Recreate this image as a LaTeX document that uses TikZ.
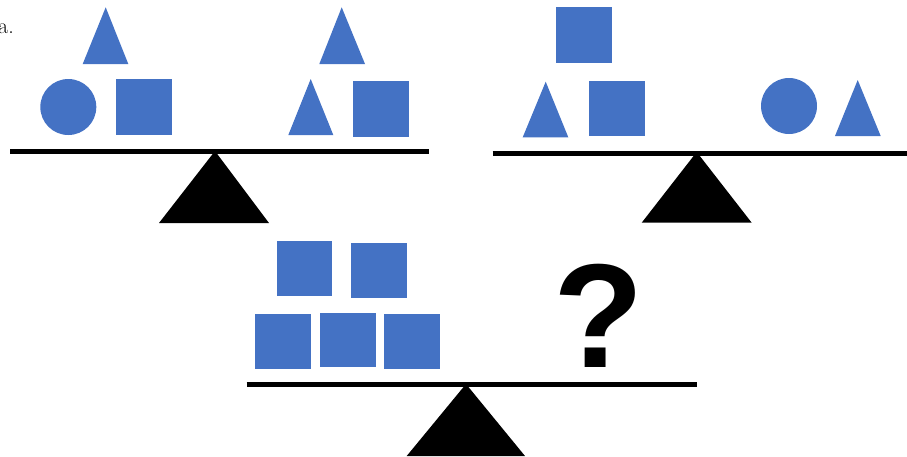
\documentclass[tikz,border=0pt]{standalone}
\usepackage{fontspec}
\newfontfamily\qfont{Liberation Sans}
\definecolor{shapeblue}{HTML}{4472C4}
\begin{document}
\begin{tikzpicture}[x=1pt, y=-1pt,
  piece/.style={fill=shapeblue},
  beam/.style={line width=5pt},
  pivot/.style={fill=black}]
\useasboundingbox (0,0) rectangle (907,456);

% first scale
\node[anchor=base east, inner sep=0pt, font=\fontsize{22}{24}\selectfont] (lbl) at (14,33) {a.};
\draw[beam] (10,151.5) -- (429,151.5);
\fill[pivot] (215,151) -- (269,223) -- (159,223) -- cycle;
\fill[piece] (105.7,7.3) -- (128.3,64) -- (82.7,64) -- cycle;
\fill[piece] (68.3,107) circle[radius=28];
\fill[piece] (116,79.3) rectangle (172.3,135);
\fill[piece] (341.7,7.3) -- (365,64) -- (319.3,64) -- cycle;
\fill[piece] (310.7,79) -- (333.3,135) -- (288.3,135) -- cycle;
\fill[piece] (352.7,81.3) rectangle (408.7,136.7);

% second scale
\draw[beam] (492.7,153) -- (907,153);
\fill[pivot] (696.7,152) -- (751.7,222.7) -- (641.7,222.7) -- cycle;
\fill[piece] (556,7.3) rectangle (611.7,63.3);
\fill[piece] (545.7,81.7) -- (568.3,137.3) -- (522.7,137.3) -- cycle;
\fill[piece] (589,80.7) rectangle (645,136);
\fill[piece] (789,106) circle[radius=28];
\fill[piece] (857.7,80) -- (880.7,136) -- (835,136) -- cycle;

% third scale
\draw[beam] (246.7,384.8) -- (696.7,384.8);
\fill[pivot] (466,384) -- (525,456) -- (406.7,456) -- cycle;
\fill[piece] (276.7,240.7) rectangle (332.3,296);
\fill[piece] (351,242.7) rectangle (406.7,297.7);
\fill[piece] (255,314.3) rectangle (311,369);
\fill[piece] (320,312.7) rectangle (375.7,367.3);
\fill[piece] (384,314.3) rectangle (440,369);
\node[anchor=base, inner sep=0pt, font=\qfont\bfseries\fontsize{148}{150}\selectfont] (ask) at (599,367) {?};

\end{tikzpicture}
\end{document}
